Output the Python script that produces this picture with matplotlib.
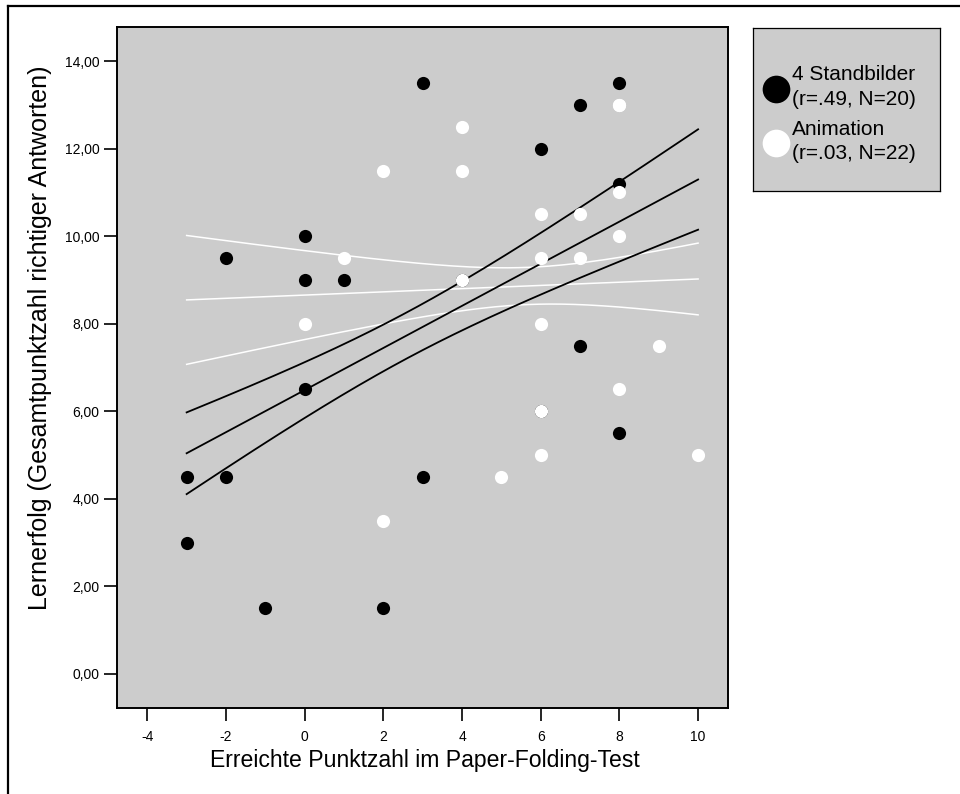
import numpy as np
import matplotlib
matplotlib.use("Agg")
import matplotlib.pyplot as plt
from matplotlib.lines import Line2D
from math import gamma, sqrt, pi

plt.rcParams["font.family"] = ["Liberation Sans", "DejaVu Sans"]

# Group "4 Standbilder": paper-folding score vs. learning success
stand_x = [3, 8, 7, 6, 8, 0, -2, 0, 1, 0, -3, -2, 3, -3, -1, 2, 7, 8, 4, 6]
stand_y = [13.5, 13.5, 13.0, 12.0, 11.2, 10.0, 9.5, 9.0, 9.0, 6.5,
           4.5, 4.5, 4.5, 3.0, 1.5, 1.5, 7.5, 5.5, 9.0, 6.0]

# Group "Animation"
anim_x = [8, 8, 4, 4, 2, 8, 6, 7, 8, 1, 6, 7, 4, 0, 6, 9, 8, 6, 6, 10, 5, 2]
anim_y = [13.0, 13.0, 12.5, 11.5, 11.5, 11.0, 10.5, 10.5, 10.0, 9.5, 9.5,
          9.5, 9.0, 8.0, 8.0, 7.5, 6.5, 6.0, 5.0, 5.0, 4.5, 3.5]

group_names = ["4 Standbilder", "Animation"]
x_ticks = [-4, -2, 0, 2, 4, 6, 8, 10]
y_ticks = [0, 2, 4, 6, 8, 10, 12, 14]
x_title = "Erreichte Punktzahl im Paper-Folding-Test"
y_title = "Lernerfolg (Gesamtpunktzahl richtiger Antworten)"
band_level = 0.50  # coverage of the confidence band around the fit line

GRAY = "#cccccc"


def t_quantile(p, df):
    """Quantile of Student's t distribution by numeric integration."""
    c = gamma((df + 1) / 2) / (sqrt(df * pi) * gamma(df / 2))
    xs = np.linspace(0, 8, 40001)
    pdf = c * (1 + xs ** 2 / df) ** (-(df + 1) / 2)
    cdf = 0.5 + np.concatenate([[0], np.cumsum((pdf[1:] + pdf[:-1]) / 2 * np.diff(xs))])
    return float(np.interp(p, cdf, xs))


def fit_with_band(x, y, grid, level):
    x = np.asarray(x, float)
    y = np.asarray(y, float)
    n = len(x)
    mx, my = x.mean(), y.mean()
    sxx = ((x - mx) ** 2).sum()
    b = ((x - mx) * (y - my)).sum() / sxx
    a = my - b * mx
    s = np.sqrt(((y - a - b * x) ** 2).sum() / (n - 2))
    fit = a + b * grid
    se = s * np.sqrt(1 / n + (grid - mx) ** 2 / sxx)
    tq = t_quantile(0.5 + level / 2, n - 2)
    return fit, fit - tq * se, fit + tq * se


def corr_label(name, x, y):
    r = np.corrcoef(x, y)[0, 1]
    r_txt = f"{r:.2f}".replace("0.", ".", 1)
    return f"{name}\n(r={r_txt}, N={len(x)})"


W, H = 960, 794
fig = plt.figure(figsize=(W / 100, H / 100), dpi=100)
ax = fig.add_axes([117 / W, 1 - 708 / H, (728 - 117) / W, (708 - 27) / H])
ax.set_facecolor(GRAY)

grid = np.linspace(min(stand_x + anim_x), max(stand_x + anim_x), 200)

for xs, ys, col, lw in [(anim_x, anim_y, "white", 1.1), (stand_x, stand_y, "black", 1.3)]:
    fit, lo, hi = fit_with_band(xs, ys, grid, band_level)
    for curve in (fit, lo, hi):
        ax.plot(grid, curve, color=col, lw=lw, zorder=2)

sc_b = ax.scatter(stand_x, stand_y, s=90, color="black", linewidths=0, zorder=3)
sc_w = ax.scatter(anim_x, anim_y, s=90, color="white", linewidths=0, zorder=4)

ax.set_xlim(-4.77, 10.76)
ax.set_ylim(-0.78, 14.78)
ax.set_xticks(x_ticks)
ax.set_xticklabels([str(v) for v in x_ticks])
ax.set_yticks(y_ticks)
ax.set_yticklabels([f"{v:.2f}".replace(".", ",") for v in y_ticks])
ax.tick_params(direction="out", length=9.5, width=1.2, labelsize=10, color="black")
ax.tick_params(axis="x", pad=6)
ax.tick_params(axis="y", pad=3)
for sp in ax.spines.values():
    sp.set_linewidth(1.4)
    sp.set_color("black")

fig.text(425 / W, 1 - 761 / H, x_title, ha="center", va="center", fontsize=16.6)
fig.text(40 / W, 1 - 338 / H, y_title, ha="center", va="center", rotation=90, fontsize=18)

# legend panel
lax = fig.add_axes([753 / W, 1 - 191 / H, (940 - 753) / W, (191 - 28) / H])
lax.set_facecolor(GRAY)
lax.set_xticks([])
lax.set_yticks([])
for sp in lax.spines.values():
    sp.set_linewidth(0.9)
leg = lax.legend([sc_b, sc_w],
                 [corr_label(group_names[0], stand_x, stand_y),
                  corr_label(group_names[1], anim_x, anim_y)],
                 loc="center left", bbox_to_anchor=(0.0, 0.47), frameon=False,
                 fontsize=15, markerscale=2.1, handlelength=1.0, handletextpad=0.25,
                 labelspacing=0.5, borderaxespad=0.2)
for t in leg.get_texts():
    t.set_linespacing(1.38)

# outer frame lines
fig.add_artist(Line2D([8 / W, 1], [1 - 6 / H, 1 - 6 / H], color="black", lw=1.6))
fig.add_artist(Line2D([8 / W, 8 / W], [0, 1 - 6 / H], color="black", lw=1.6))

fig.savefig("out.png", dpi=100)
